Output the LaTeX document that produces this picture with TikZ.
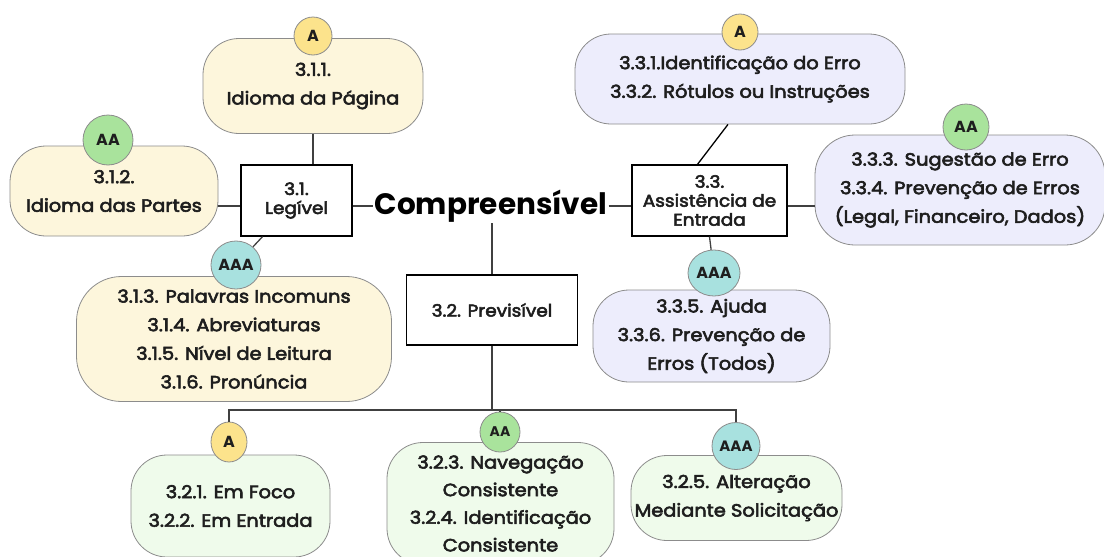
\documentclass[tikz,border=0pt]{standalone}
\usepackage{fontspec}
\setmainfont{Poppins}[FakeStretch=1.09,UprightFeatures={FakeBold=3.2}]
\newfontfamily\titlefont{Poppins}
\newfontfamily\badgefont{Poppins}[FakeStretch=1.0]
\usetikzlibrary{shapes.geometric,calc}
\definecolor{cream}{HTML}{FDF6DC}
\definecolor{lav}{HTML}{EDEDFC}
\definecolor{mint}{HTML}{EFFBEB}
\definecolor{byel}{HTML}{FCE38C}
\definecolor{bgrn}{HTML}{A9E39C}
\definecolor{btea}{HTML}{A8E1DF}
\definecolor{ink}{HTML}{1E1E1E}
\definecolor{edge}{HTML}{8C8C8C}
\definecolor{wire}{HTML}{404040}
\begin{document}
\begin{tikzpicture}[x=1pt,y=-1pt,
  pill/.style={draw=edge, line width=0.8pt, rounded corners=36pt, align=center, text=ink,
    font=\fontsize{17.8}{28.6}\selectfont, inner sep=0pt},
  sq/.style={draw=black, line width=1.3pt, fill=white, align=center, text=ink, inner sep=0pt,
    font=\fontsize{17}{19}\selectfont},
  badge/.style={ellipse, draw=edge, line width=0.8pt, inner sep=0pt, text=ink,
    font=\badgefont\fontsize{16}{16}\selectfont\bfseries},
  wirel/.style={draw=wire, line width=1.3pt}]
\useasboundingbox (0,0) rectangle (1104,557);

% boxes
\node[pill, fill=cream, minimum width=220pt, minimum height=95pt] (b311) at (313,86) {3.1.1.\\Idioma da Página};
\node[pill, fill=cream, minimum width=208pt, minimum height=90pt] (b312) at (114,191) {3.1.2.\\Idioma das Partes};
\node[pill, fill=cream, minimum width=315pt, minimum height=125pt, rounded corners=45pt] (b313) at (234,339) {3.1.3. Palavras Incomuns\\3.1.4. Abreviaturas\\3.1.5. Nível de Leitura\\3.1.6. Pronúncia};
\node[pill, fill=lav, minimum width=330pt, minimum height=90pt] (b331) at (740,79) {3.3.1.Identificação do Erro\\3.3.2. Rótulos ou Instruções};
\node[pill, fill=lav, minimum width=290pt, minimum height=110pt, rounded corners=40pt] (b333) at (960,190) {3.3.3. Sugestão de Erro\\3.3.4. Prevenção de Erros\\(Legal, Financeiro, Dados)};
\node[pill, fill=lav, minimum width=237pt, minimum height=92pt] (b335) at (711.5,336) {3.3.5. Ajuda\\3.3.6. Prevenção de\\Erros (Todos)};
\node[pill, fill=mint, minimum width=199pt, minimum height=102pt] (b321) at (230.5,506) {3.2.1. Em Foco\\3.2.2. Em Entrada};
\node[pill, fill=mint, minimum width=227pt, minimum height=122pt, font=\fontsize{17.8}{27.6}\selectfont] (b323) at (500.5,503.5) {3.2.3. Navegação\\Consistente\\3.2.4. Identificação\\Consistente};
\node[pill, fill=mint, minimum width=211pt, minimum height=85pt] (b325) at (736.5,498) {3.2.5. Alteração\\Mediante Solicitação};

% square nodes
\node[sq, minimum width=111pt, minimum height=71pt] (leg) at (296.5,200.5) {3.1.\\Legível};
\node[sq, minimum width=155pt, minimum height=71pt] (aid) at (709.5,200.5) {3.3.\\Assistência de\\Entrada};
\node[sq, minimum width=171pt, minimum height=70pt] (prev) at (492,310) {3.2. Previsível};
\node[inner sep=1pt, text=black, font=\titlefont\fontsize{29.5}{29.5}\selectfont\bfseries] (comp) at (491,206) {Compreensível};

% connectors
\coordinate (busy) at (0,410);
\draw[wirel] (b311.south) -- (b311.south |- leg.north);
\draw[wirel] (b312.east |- comp) -- (leg.west |- comp);
\draw[wirel] (leg.east |- comp) -- (comp.west);
\draw[wirel] (comp.east) -- (aid.west |- comp);
\draw[wirel] (aid.east |- comp) -- (b333.west |- comp);
\draw[wirel, draw=black] ($(b331.south)+(-12,0)$) -- ($(aid.north)+(-12,0)$);
\draw[wirel] (prev.north |- comp.south) -- (prev.north);

% badges
\node[badge, fill=byel, minimum width=38pt, minimum height=38pt] (a311) at (313,36) {A};
\node[badge, fill=bgrn, minimum width=50pt, minimum height=50pt] (a312) at (108,140) {AA};
\node[badge, fill=btea, minimum width=50pt, minimum height=48pt] (a313) at (236,265) {AAA};
\node[badge, fill=byel, minimum width=36pt, minimum height=36pt] (a331) at (740,32) {A};
\node[badge, fill=bgrn, minimum width=46pt, minimum height=46pt] (a333) at (966,127) {AA};
\node[badge, fill=btea, minimum width=52pt, minimum height=46pt] (a335) at (714,273) {AAA};
\node[badge, fill=byel, minimum width=36pt, minimum height=40pt] (a321) at (229,442) {A};
\node[badge, fill=bgrn, minimum width=40pt, minimum height=40pt, font=\badgefont\fontsize{14}{14}\selectfont\bfseries] (a323) at (500,432) {AA};
\node[badge, fill=btea, minimum width=48pt, minimum height=47pt, font=\badgefont\fontsize{15}{15}\selectfont\bfseries] (a325) at (736,446) {AAA};

\draw[wirel] ($(leg.south)+(-34,0)$) -- (a313);
\draw[wirel] (aid.south) -- (a335);
\draw[wirel] (prev.south) -- (prev.south |- busy);
\draw[wirel] (a321.north) -- (a321.north |- busy) -- (a325.north |- busy) -- (a325.north);
\draw[wirel] (a323.north) -- (a323.north |- busy);
\end{tikzpicture}
\end{document}
